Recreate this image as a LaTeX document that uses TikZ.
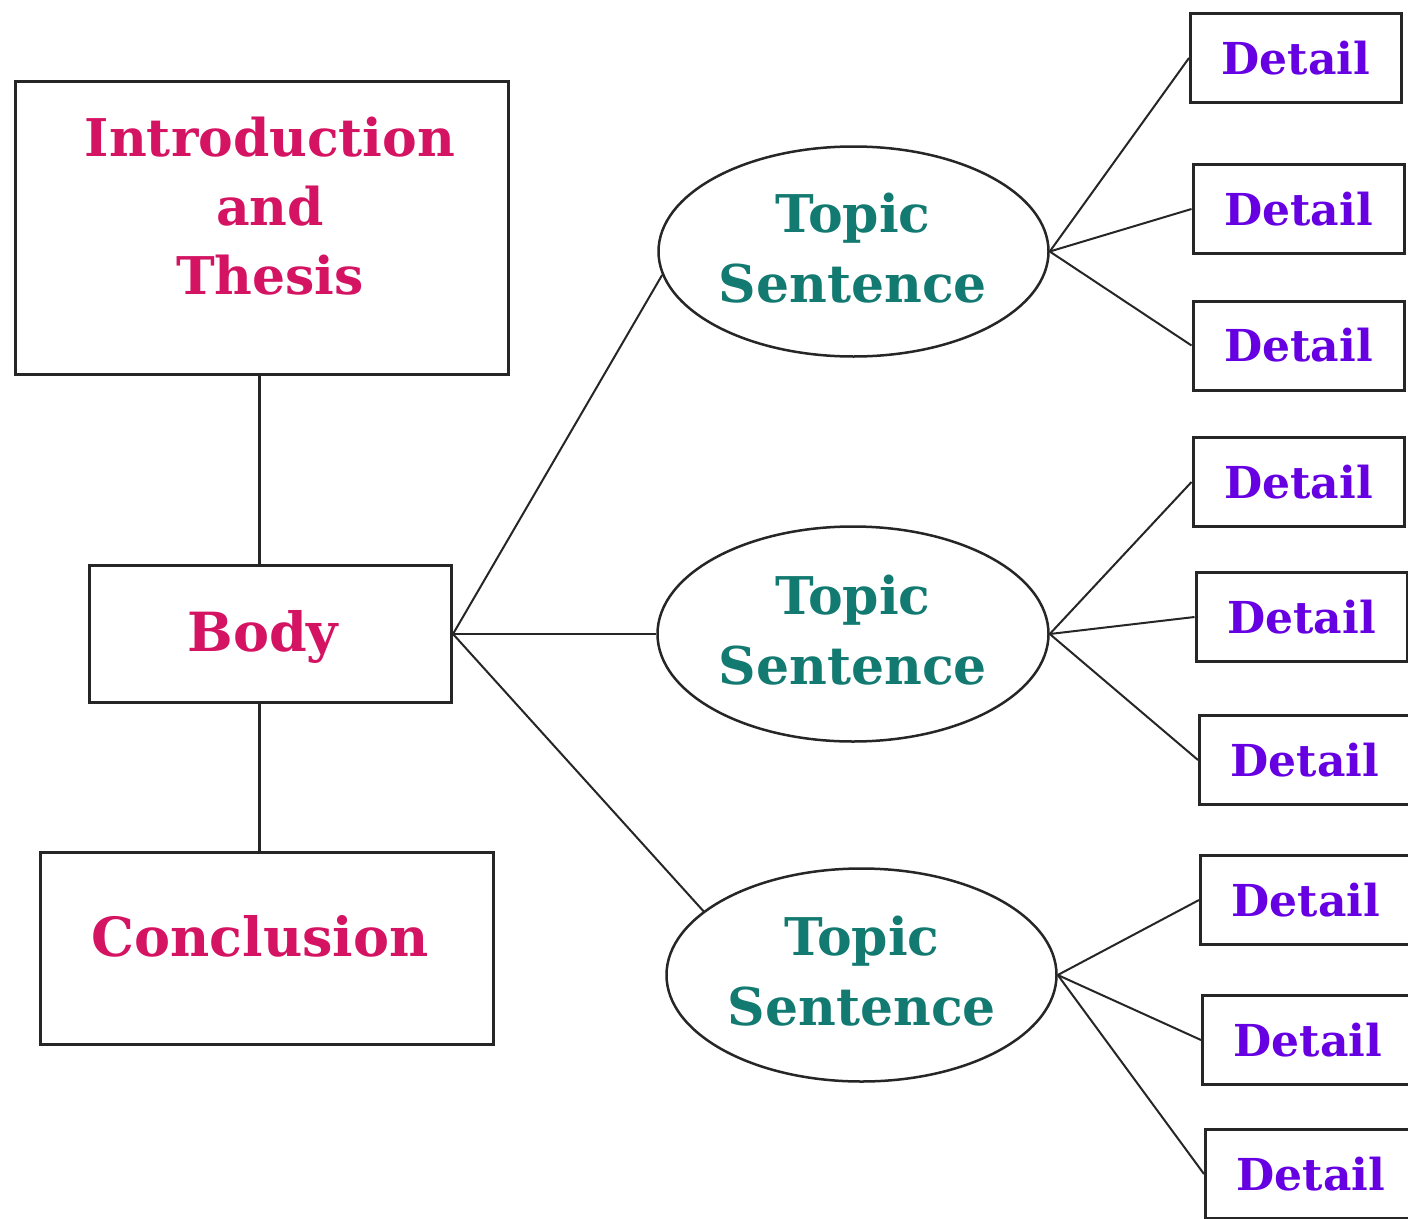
\documentclass[tikz,border=0pt]{standalone}
\usepackage{fontspec}
\setmainfont{DejaVu Serif}
\usetikzlibrary{shapes.geometric}
\definecolor{pinkred}{RGB}{212,20,98}
\definecolor{tealtxt}{RGB}{18,122,112}
\definecolor{purptxt}{RGB}{102,0,226}
\tikzset{
  frame/.style={draw=black!85, line width=3pt, inner sep=0pt, fill=white},
  detailbox/.style={frame, minimum width=211pt, minimum height=89pt,
    text=purptxt, font=\bfseries\fontsize{44}{50}\selectfont},
  topic/.style={draw=black!85, line width=2.5pt, ellipse, inner sep=0pt, fill=white},
  maintxt/.style={text=pinkred, font=\bfseries\fontsize{52}{69}\selectfont, align=center, inner sep=0pt},
  bigtxt/.style={maintxt, font=\bfseries\fontsize{54}{69}\selectfont},
  topictxt/.style={text=tealtxt, font=\bfseries\fontsize{52}{70}\selectfont, align=center, inner sep=0pt},
  conn/.style={draw=black!85, line width=2pt},
  vconn/.style={draw=black!85, line width=3pt},
}
\begin{document}
\begin{tikzpicture}[x=1pt,y=-1pt]
\clip (0,0) rectangle (1408,1218);
\fill[white] (0,0) rectangle (1408,1218);

% left column boxes
\node[frame, minimum width=493pt, minimum height=293pt] (intro) at (262,228) {};
\node[frame, minimum width=362pt, minimum height=137pt] (body) at (270.5,634) {};
\node[frame, minimum width=453pt, minimum height=192pt] (concl) at (267,948.5) {};
\node[maintxt] (introtxt) at (270,206) {Introduction\\and\\Thesis};
\node[bigtxt, anchor=base] (bodytxt) at (263,651) {Body};
\node[bigtxt, anchor=base] (concltxt) at (260,956) {Conclusion};

% ellipses
\node[topic, minimum width=390pt, minimum height=210pt] (e1) at (853.5,251.5) {};
\node[topic, minimum width=391pt, minimum height=215pt] (e2) at (853,634) {};
\node[topic, minimum width=390pt, minimum height=213pt] (e3) at (861.5,975) {};
\node[topictxt] (t1) at (853,248) {Topic\\Sentence};
\node[topictxt] (t2) at (853,630) {Topic\\Sentence};
\node[topictxt] (t3) at (862,971) {Topic\\Sentence};

% detail boxes
\node[detailbox] (d1) at (1296,58) {Detail};
\node[detailbox] (d2) at (1298.5,209) {Detail};
\node[detailbox] (d3) at (1298.5,345.5) {Detail};
\node[detailbox] (d4) at (1298.5,482) {Detail};
\node[detailbox] (d5) at (1301.5,617) {Detail};
\node[detailbox] (d6) at (1305,760) {Detail};
\node[detailbox] (d7) at (1306,900) {Detail};
\node[detailbox] (d8) at (1308,1040) {Detail};
\node[detailbox] (d9) at (1311,1174) {Detail};

% connectors
\draw[vconn] ([xshift=-3pt]intro.south) -- ([xshift=-3pt]intro.south |- body.north);
\draw[vconn] ([xshift=-11.5pt]body.south) -- ([xshift=-11.5pt]body.south |- concl.north);
\draw[conn] (body.east) -- (e1.187);
\draw[conn] (body.east) -- (e2.west);
\draw[conn] (body.east) -- (e3.158);
\foreach \d in {d1,d2,d3} \draw[conn] (e1.east) -- (\d.west);
\foreach \d in {d4,d5,d6} \draw[conn] (e2.east) -- (\d.west);
\foreach \d in {d7,d8,d9} \draw[conn] (e3.east) -- (\d.west);
\end{tikzpicture}
\end{document}
